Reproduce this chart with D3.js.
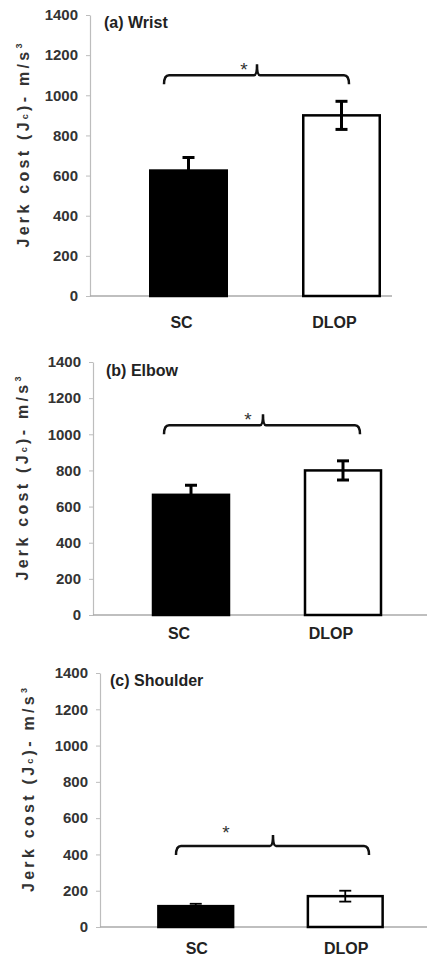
<!DOCTYPE html>
<html>
<head>
<meta charset="utf-8">
<script src="https://cdn.jsdelivr.net/npm/d3@7"></script>
<style>
  body { margin: 0; background: #fff; }
  text { font-family: "Liberation Sans", Arial, sans-serif; }
</style>
</head>
<body>
<div id="chart"></div>
<script>
// values
var joints = ['(a) Wrist', '(b) Elbow', '(c) Shoulder']
var groups = ['SC', 'DLOP']
var meanSC = [625, 665, 115]
var meanDLOP = [900, 800, 170]
var errSC = [65, 53, 13]
var errDLOP = [70, 53, 30]
var sigLevel = [1100, 1050, 446]
var yTicks = [0, 200, 400, 600, 800, 1000, 1200, 1400]

var width = 427, height = 958

// where each panel sits on the page
var layout = [
    { top: 15, bottom: 296, axisX: 90, x0: 112, x1: 418, baseEnd: 392, labelDy: 32, labelDx: -7,
      yLabelX: 23, titleX: 104, titleY: 28, bx0: 164, bx1: 349, bmid: 257, starX: 244, starDy: -9, errW: 3 },
    { top: 362, bottom: 615, axisX: 93, x0: 115, x1: 419, baseEnd: 427, labelDy: 24, labelDx: -12,
      yLabelX: 22, titleX: 106, titleY: 376, bx0: 164, bx1: 360, bmid: 263, starX: 248, starDy: -9, errW: 3 },
    { top: 673, bottom: 927, axisX: 100, x0: 121, x1: 420, baseEnd: 427, labelDy: 27, labelDx: 1,
      yLabelX: 28, titleX: 110, titleY: 686, bx0: 176, bx1: 369, bmid: 273, starX: 226, starDy: -17, errW: 1.8 }
]

var svg = d3.select('#chart')
    .append('svg')
    .attr('width', width)
    .attr('height', height)

layout.forEach(function(L, i) {

    var y = d3.scaleLinear()
        .domain([0, 1400])
        .range([L.bottom, L.top])

    var x = d3.scaleBand()
        .domain(groups)
        .range([L.x0, L.x1])
        .paddingInner(0.5)
        .paddingOuter(0.25)

    var rows = [
        { g: 'SC', mean: meanSC[i], err: errSC[i], fill: '#000' },
        { g: 'DLOP', mean: meanDLOP[i], err: errDLOP[i], fill: '#fff' }
    ]

    var g = svg.append('g')

    // y axis
    var ax = g.append('g')
        .attr('transform', 'translate(' + L.axisX + ',0)')
        .call(d3.axisLeft(y).tickValues(yTicks).tickFormat(d3.format('d'))
            .tickSize(4).tickSizeOuter(0).tickPadding(8))
    ax.select('.domain').attr('stroke', '#bdbdbd').attr('stroke-width', 1.2)
    ax.selectAll('.tick line').attr('stroke', '#bdbdbd')
    ax.selectAll('.tick text')
        .attr('fill', '#333')
        .style('font-size', '15px')
        .style('font-weight', 'bold')
        .style('font-family', '"Liberation Sans", Arial, sans-serif')

    // baseline
    g.append('line')
        .attr('x1', L.axisX).attr('x2', L.baseEnd)
        .attr('y1', y(0)).attr('y2', y(0))
        .attr('stroke', '#aaa')
        .attr('stroke-width', 1.5)

    // bars
    g.selectAll('rect.bar')
        .data(rows)
        .enter()
        .append('rect')
        .attr('class', 'bar')
        .attr('x', function(d) { return x(d.g) })
        .attr('y', function(d) { return y(d.mean) })
        .attr('width', x.bandwidth())
        .attr('height', function(d) { return y(0) - y(d.mean) })
        .attr('fill', function(d) { return d.fill })
        .attr('stroke', '#000')
        .attr('stroke-width', 2.5)

    // error bars
    var cap = 6
    rows.forEach(function(d) {
        var cx = x(d.g) + x.bandwidth() / 2
        var eb = g.append('g')
            .attr('stroke', '#000')
            .attr('stroke-width', L.errW)
        eb.append('line')
            .attr('x1', cx).attr('x2', cx)
            .attr('y1', y(d.mean - d.err)).attr('y2', y(d.mean + d.err))
        eb.append('line')
            .attr('x1', cx - cap).attr('x2', cx + cap)
            .attr('y1', y(d.mean + d.err)).attr('y2', y(d.mean + d.err))
        eb.append('line')
            .attr('x1', cx - cap).attr('x2', cx + cap)
            .attr('y1', y(d.mean - d.err)).attr('y2', y(d.mean - d.err))
    })

    // significance brace
    var hy = y(sigLevel[i])
    var arm = 9, peak = 11, r = 5
    var p = d3.path()
    p.moveTo(L.bx0, hy + arm)
    p.quadraticCurveTo(L.bx0, hy, L.bx0 + r, hy)
    p.lineTo(L.bmid - 3, hy)
    p.quadraticCurveTo(L.bmid, hy, L.bmid, hy - peak)
    p.quadraticCurveTo(L.bmid, hy, L.bmid + 3, hy)
    p.lineTo(L.bx1 - r, hy)
    p.quadraticCurveTo(L.bx1, hy, L.bx1, hy + arm)
    g.append('path')
        .attr('d', p.toString())
        .attr('fill', 'none')
        .attr('stroke', '#111')
        .attr('stroke-width', 2.5)

    g.append('text')
        .attr('x', L.starX)
        .attr('y', hy + L.starDy + 10)
        .attr('text-anchor', 'middle')
        .attr('fill', '#333')
        .style('font-size', '19px')
        .text('*')

    // panel title
    g.append('text')
        .attr('x', L.titleX)
        .attr('y', L.titleY)
        .attr('fill', '#222')
        .style('font-size', '16px')
        .style('font-weight', 'bold')
        .text(joints[i])

    // category labels
    g.selectAll('text.cat')
        .data(groups)
        .enter()
        .append('text')
        .attr('class', 'cat')
        .attr('x', function(d) { return x(d) + x.bandwidth() / 2 + L.labelDx })
        .attr('y', y(0) + L.labelDy)
        .attr('text-anchor', 'middle')
        .attr('fill', '#222')
        .style('font-size', '16px')
        .style('font-weight', 'bold')
        .text(function(d) { return d })

    // y axis title
    var yl = g.append('text')
        .attr('transform', 'translate(' + L.yLabelX + ',' + ((L.top + L.bottom) / 2 - 10) + ') rotate(-90)')
        .attr('text-anchor', 'middle')
        .attr('dominant-baseline', 'central')
        .attr('fill', '#333')
        .attr('textLength', 204)
        .attr('lengthAdjust', 'spacing')
        .style('font-size', '16px')
        .style('font-weight', 'bold')
    yl.append('tspan').text('Jerk cost (J')
    yl.append('tspan').attr('baseline-shift', '-25%').style('font-size', '9px').text('c')
    yl.append('tspan').text(')- m/s')
    yl.append('tspan').attr('baseline-shift', '45%').style('font-size', '9px').text('3')
})
</script>
</body>
</html>
